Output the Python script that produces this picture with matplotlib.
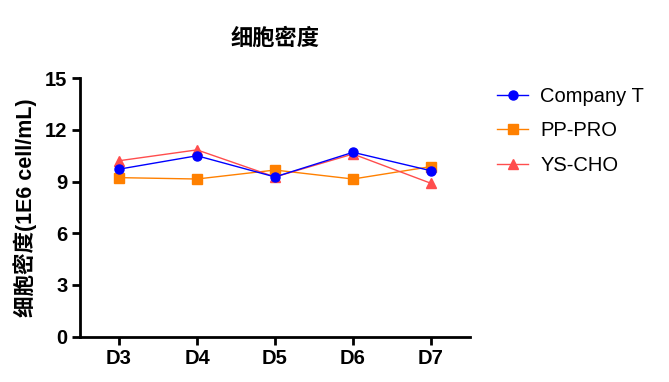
import matplotlib
matplotlib.use("Agg")
import matplotlib.pyplot as plt

plt.rcParams['font.family'] = ['Liberation Sans', 'Noto Sans CJK SC', 'DejaVu Sans']

## dane
dni = ["D3", "D4", "D5", "D6", "D7"]
company_t = [9.72, 10.5, 9.27, 10.70, 9.63]
pp_pro = [9.23, 9.15, 9.67, 9.15, 9.87]
ys_cho = [10.21, 10.84, 9.27, 10.6, 8.9]
y_ticks = [0, 3, 6, 9, 12, 15]

fig = plt.figure(figsize=(6.69, 3.82), dpi=100)
ax = fig.add_axes([0.1196, 0.1186, 0.5829, 0.6767])

x = range(len(dni))
ax.plot(x, company_t, color="#0000ff", marker="o", markersize=6.5, linewidth=1, label="Company T", zorder=3)
ax.plot(x, pp_pro, color="#ff8000", marker="s", markersize=6.5, linewidth=1, label="PP-PRO", zorder=2)
ax.plot(x, ys_cho, color="#ff4d4d", marker="^", markersize=6.5, linewidth=1, label="YS-CHO", zorder=2)

ax.set_xlim(-0.5, 4.5)
ax.set_ylim(0, 15)
ax.set_xticks(list(x))
ax.set_xticklabels(dni, fontsize=14.5, fontweight="bold")
ax.set_yticks(y_ticks)
ax.set_yticklabels([str(t) for t in y_ticks], fontsize=14.5, fontweight="bold")

for s in ["top", "right"]:
    ax.spines[s].set_visible(False)
for s in ["left", "bottom"]:
    ax.spines[s].set_linewidth(2)
ax.tick_params(direction="out", length=6, width=2, pad=3)

ax.set_ylabel("细胞密度(1E6 cell/mL)", fontsize=15.5, fontweight="bold", labelpad=6)
ax.set_title("细胞密度", fontsize=16, fontweight="bold", pad=24)

fig.legend(loc="upper left", bbox_to_anchor=(0.743, 0.772), frameon=False, borderpad=0,
           borderaxespad=0, fontsize=14.5, handlelength=1.55, handletextpad=0.6,
           labelspacing=0.76)

fig.savefig("out.png", dpi=100)
